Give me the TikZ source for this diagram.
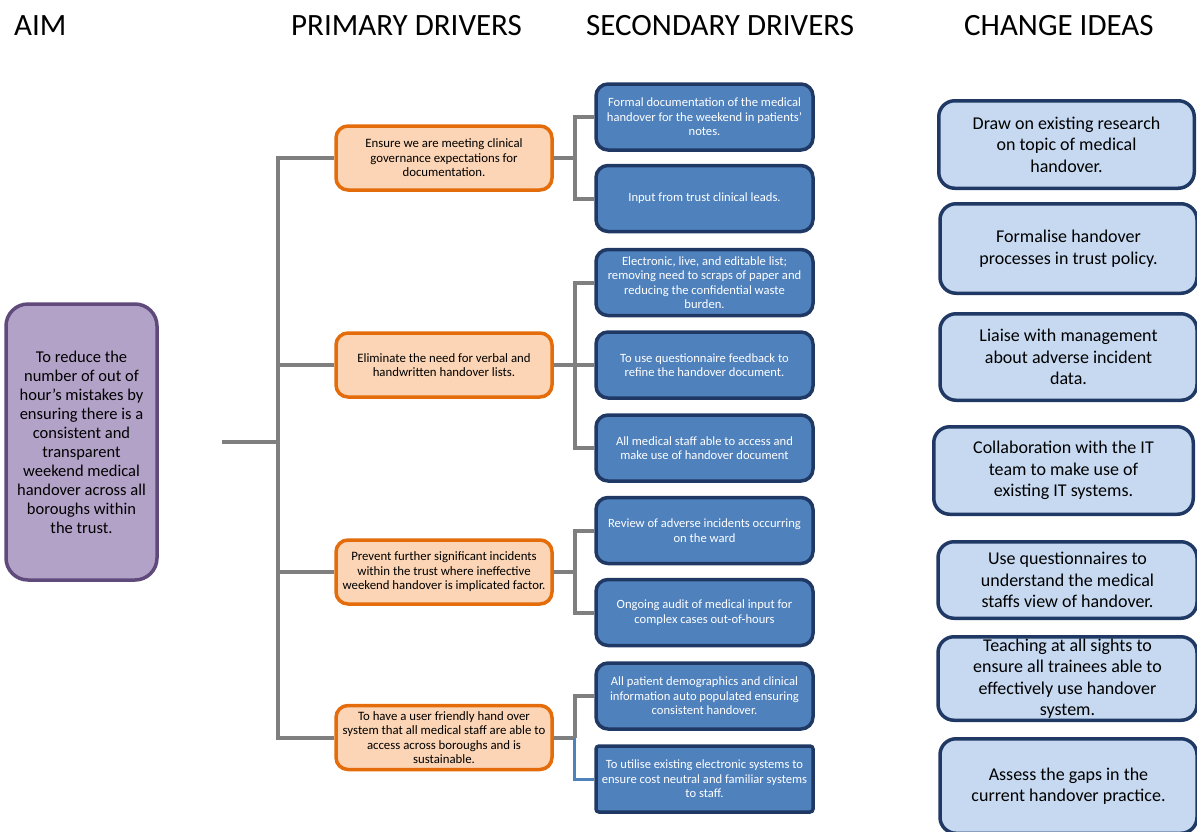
\documentclass[tikz,border=0pt]{standalone}
\usepackage{fontspec}
\setmainfont{Carlito}
\usepackage{tikz}

\definecolor{treegray}{HTML}{7F7F7F}
\definecolor{aimfill}{HTML}{B3A2C7}
\definecolor{aimline}{HTML}{604A7B}
\definecolor{primfill}{HTML}{FBD5B5}
\definecolor{primline}{HTML}{E46C0A}
\definecolor{secfill}{HTML}{4F81BD}
\definecolor{secline}{HTML}{1F3864}
\definecolor{ideafill}{HTML}{C6D9F1}
\definecolor{idealine}{HTML}{1F3864}

\begin{document}
\begin{tikzpicture}[x=1pt,y=-1pt,
    head/.style={anchor=base west,inner sep=0pt,font=\fontsize{31}{35}\selectfont},
    box/.style={draw,line width=3.5pt,align=center,inner sep=1.5pt},
    aimbox/.style={box,fill=aimfill,draw=aimline,rounded corners=22pt,minimum width=151pt,minimum height=276pt,font=\fontsize{16.5}{19}\selectfont},
    primbox/.style={box,fill=primfill,draw=primline,rounded corners=12pt,minimum width=216pt,minimum height=64pt,font=\fontsize{12.8}{14.5}\selectfont},
    secbox/.style={box,fill=secfill,draw=secline,text=white,rounded corners=12pt,minimum width=217pt,minimum height=66pt,font=\fontsize{12.6}{14.5}\selectfont},
    ideabox/.style={box,fill=ideafill,draw=idealine,rounded corners=16pt,font=\fontsize{18}{21.5}\selectfont},
    tree/.style={draw=treegray,line width=4pt}]
    \useasboundingbox (0,0) rectangle (1197,831);
    % column headings
    \node[head] (haim)  at (14,35)  {AIM};
    \node[head] (hprim) at (291,35) {PRIMARY DRIVERS};
    \node[head] (hsec)  at (586,35) {SECONDARY DRIVERS};
    \node[head] (hidea) at (964,35) {CHANGE IDEAS};

    \node[aimbox] (aim) at (81.5,442) {To reduce the\\number of out of\\hour’s mistakes by\\ensuring there is a\\consistent and\\transparent\\weekend medical\\handover across all\\boroughs within\\the trust.};

    \node[primbox] (p1) at (444,158) {Ensure we are meeting clinical\\governance expectations for\\documentation.};
    \node[primbox] (p2) at (444,365) {Eliminate the need for verbal and\\handwritten handover lists.};
    \node[primbox] (p3) at (444,572) {Prevent further significant incidents\\within the trust where ineffective\\weekend handover is implicated factor.};
    \node[primbox] (p4) at (444,737.5) {To have a user friendly hand over\\system that all medical staff are able to\\access across boroughs and is\\sustainable.};

    \node[secbox] (s1) at (704.5,117) {Formal documentation of the medical\\handover for the weekend in patients’\\notes.};
    \node[secbox] (s2) at (704.5,198.5) {Input from trust clinical leads.};
    \node[secbox] (s3) at (704.5,282.5) {Electronic, live, and editable list;\\removing need to scraps of paper and\\reducing the confidential waste\\burden.};
    \node[secbox] (s4) at (704.5,365) {To use questionnaire feedback to\\refine the handover document.};
    \node[secbox] (s5) at (704.5,448) {All medical staff able to access and\\make use of handover document};
    \node[secbox] (s6) at (704.5,530.5) {Review of adverse incidents occurring\\on the ward};
    \node[secbox] (s7) at (704.5,612.5) {Ongoing audit of medical input for\\complex cases out-of-hours};
    \node[secbox] (s8) at (704.5,696) {All patient demographics and clinical\\information auto populated ensuring\\consistent handover.};
    \node[secbox,rounded corners=3pt] (s9) at (704.5,779) {To utilise existing electronic systems to\\ensure cost neutral and familiar systems\\to staff.};

    \node[ideabox,minimum width=255.5pt,minimum height=87.5pt] (c1) at (1066.5,144.5) {Draw on existing research\\on topic of medical\\handover.};
    \node[ideabox,minimum width=257pt,minimum height=89.5pt] (c2) at (1068.5,248.5) {Formalise handover\\processes in trust policy.};
    \node[ideabox,minimum width=257pt,minimum height=86.5pt] (c3) at (1068.5,357) {Liaise with management\\about adverse incident\\data.};
    \node[ideabox,minimum width=259.5pt,minimum height=87.5pt] (c4) at (1063.5,470.5) {Collaboration with the IT\\team to make use of\\existing IT systems.};
    \node[ideabox,minimum width=259pt,minimum height=76.5pt] (c5) at (1067.5,580) {Use questionnaires to\\understand the medical\\staffs view of handover.};
    \node[ideabox,minimum width=259pt,minimum height=83.5pt] (c6) at (1067.5,678.5) {Teaching at all sights to\\ensure all trainees able to\\effectively use handover\\system.};
    \node[ideabox,minimum width=257pt,minimum height=94.5pt] (c7) at (1068.5,786) {Assess the gaps in the\\current handover practice.};

    % aim to primary drivers
    \coordinate (stub) at (222,442);
    \coordinate (root) at (278,442);
    \draw[tree] (stub) -- (root);
    \foreach \p in {p1,p2,p3,p4}
        \draw[tree] (root) |- (\p.west);

    % primary to secondary drivers
    \draw[tree] (p1.east) -- ++(21,0) coordinate (t1);
    \draw[tree] (t1) |- (s1.west);
    \draw[tree] (t1) |- (s2.west);
    \draw[tree] (p2.east) -- ++(21,0) coordinate (t2);
    \foreach \s in {s3,s4,s5}
        \draw[tree] (t2) |- (\s.west);
    \draw[tree] (p3.east) -- ++(21,0) coordinate (t3);
    \draw[tree] (t3) |- (s6.west);
    \draw[tree] (t3) |- (s7.west);
    \draw[tree] (p4.east) -- ++(21,0) coordinate (t4);
    \draw[tree] (t4) |- (s8.west);
    \draw[draw=secfill,line width=3pt] (t4) |- (s9.west);
\end{tikzpicture}
\end{document}
